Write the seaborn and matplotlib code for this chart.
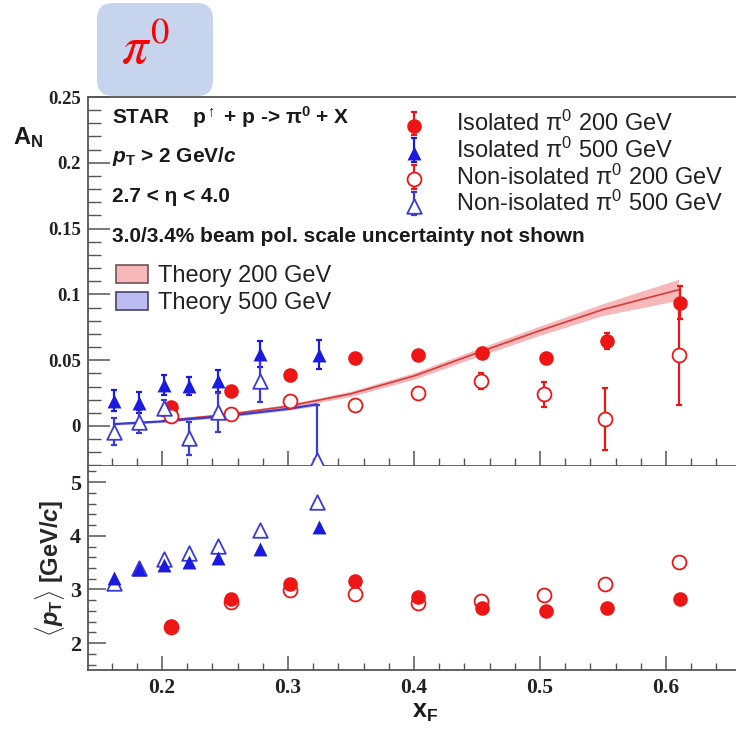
import matplotlib
matplotlib.use("Agg")
import matplotlib.pyplot as plt
import seaborn as sns
from matplotlib.patches import FancyBboxPatch, Patch
from matplotlib.ticker import MultipleLocator, FuncFormatter

# ---------------- data ----------------
# Isolated pi0, sqrt(s) = 200 GeV
xf_iso200 = [0.207, 0.255, 0.302, 0.353, 0.403, 0.454, 0.505, 0.553, 0.611]
an_iso200 = [0.0142, 0.0268, 0.0387, 0.0520, 0.0538, 0.0556, 0.0513, 0.0644, 0.0937]
err_iso200 = [0.002, 0.003, 0.003, 0.003, 0.003, 0.004, 0.004, 0.006, 0.0127]
pt_iso200 = [2.32, 2.83, 3.11, 3.16, 2.86, 2.66, 2.60, 2.65, 2.83]

# Non-isolated pi0, 200 GeV
xf_non200 = [0.207, 0.255, 0.302, 0.353, 0.403, 0.453, 0.503, 0.552, 0.610]
an_non200 = [0.0078, 0.0091, 0.0192, 0.0159, 0.0248, 0.0341, 0.0240, 0.0050, 0.0538]
err_non200 = [0.003, 0.003, 0.003, 0.003, 0.004, 0.006, 0.0095, 0.0235, 0.038]
pt_non200 = [2.30, 2.77, 2.99, 2.91, 2.75, 2.79, 2.89, 3.11, 3.51]

# Isolated pi0, 500 GeV
xf_iso500 = [0.162, 0.182, 0.2016, 0.2217, 0.2447, 0.2778, 0.3244]
an_iso500 = [0.0192, 0.0177, 0.0310, 0.0303, 0.0340, 0.0546, 0.0543]
err_iso500 = [0.008, 0.0078, 0.0078, 0.007, 0.0085, 0.010, 0.011]
pt_iso500 = [3.21, 3.39, 3.45, 3.52, 3.59, 3.76, 4.17]

# Non-isolated pi0, 500 GeV
xf_non500 = [0.162, 0.182, 0.2016, 0.2217, 0.2447, 0.2778, 0.3233]
an_non500 = [-0.0043, 0.0033, 0.0134, -0.0093, 0.0104, 0.0343, -0.0258]
err_non500 = [0.010, 0.009, 0.006, 0.0125, 0.015, 0.016, 0.042]
pt_non500 = [3.12, 3.40, 3.56, 3.68, 3.81, 4.11, 4.63]

# Theory curves with uncertainty bands
xf_th200 = [0.20, 0.25, 0.30, 0.35, 0.40, 0.45, 0.50, 0.55, 0.61]
an_th200 = [0.004, 0.0085, 0.015, 0.0245, 0.038, 0.0555, 0.0725, 0.0885, 0.1035]
unc_th200 = [0.001, 0.0012, 0.0015, 0.002, 0.0025, 0.003, 0.0035, 0.0045, 0.008]

xf_th500 = [0.162, 0.20, 0.25, 0.30, 0.323]
an_th500 = [0.0015, 0.0035, 0.0075, 0.0130, 0.0165]
unc_th500 = [0.0008, 0.0008, 0.001, 0.001, 0.0012]

# ---------------- style ----------------
sns.set_theme(style="ticks")
plt.rcParams["font.family"] = ["Liberation Sans", "DejaVu Sans"]
plt.rcParams["mathtext.fontset"] = "custom"
plt.rcParams["mathtext.rm"] = "Liberation Sans:bold"
plt.rcParams["mathtext.it"] = "Liberation Sans:bold:italic"
plt.rcParams["mathtext.bf"] = "Liberation Sans:bold"

RED = "#ee1515"
BLUE = "#1a1ae0"
BLUE_OPEN = "#3a3ad8"
RED_LINE = "#d83a3a"
RED_BAND = "#f6b8b8"
BLUE_LINE = "#3b3bd0"
BLUE_BAND = "#bcbcf2"
SPINE = "#555555"

W, H = 736, 729
fig = plt.figure(figsize=(W / 100, H / 100), dpi=100)
fig.patch.set_facecolor("white")


def fx(px):
    return px / W


def fy(py):
    return 1 - py / H


ax_top = fig.add_axes([fx(88), fy(466), fx(736) - fx(88), fy(97) - fy(466)])
ax_bot = fig.add_axes([fx(88), fy(670), fx(736) - fx(88), fy(466) - fy(670)])


def draw_series(ax, x, y, err, color, marker, filled, size):
    eb = None
    if err is not None:
        eb = ax.errorbar(x, y, yerr=err, fmt="none", ecolor=color,
                         elinewidth=1.6, capsize=2.5, capthick=1.6, zorder=3)
    sns.scatterplot(x=x, y=y, ax=ax, marker=marker, s=size,
                    color=color if filled else "white", edgecolor=color,
                    linewidth=0 if filled else 1.3, zorder=4, legend=False)
    return eb, ax.collections[-1]


# ---------------- top panel: A_N ----------------
ax = ax_top
lo200 = [a - u for a, u in zip(an_th200, unc_th200)]
hi200 = [a + u for a, u in zip(an_th200, unc_th200)]
lo500 = [a - u for a, u in zip(an_th500, unc_th500)]
hi500 = [a + u for a, u in zip(an_th500, unc_th500)]
ax.fill_between(xf_th200, lo200, hi200, color=RED_BAND, lw=0, zorder=1)
sns.lineplot(x=xf_th200, y=an_th200, ax=ax, color=RED_LINE, lw=1.2, zorder=2)
ax.fill_between(xf_th500, lo500, hi500, color=BLUE_BAND, lw=0, zorder=1)
sns.lineplot(x=xf_th500, y=an_th500, ax=ax, color=BLUE_LINE, lw=1.6, zorder=2)

h1 = draw_series(ax, xf_iso200, an_iso200, err_iso200, RED, "o", True, 110)
h2 = draw_series(ax, xf_iso500, an_iso500, err_iso500, BLUE, "^", True, 100)
h3 = draw_series(ax, xf_non200, an_non200, err_non200, RED, "o", False, 100)
h4 = draw_series(ax, xf_non500, an_non500, err_non500, BLUE_OPEN, "^", False, 110)

ax.set_xlim(0.1413, 0.6556)
ax.set_ylim(-0.0304, 0.25)
ax.yaxis.set_major_locator(MultipleLocator(0.05))
ax.yaxis.set_minor_locator(MultipleLocator(0.01))
ax.xaxis.set_major_locator(MultipleLocator(0.1))
ax.xaxis.set_minor_locator(MultipleLocator(0.02))
ax.yaxis.set_major_formatter(FuncFormatter(lambda v, p: f"{v:g}" if abs(v) > 1e-9 else "0"))
ax.tick_params(axis="y", which="major", direction="in", length=16, width=1.1,
               color=SPINE, pad=5, labelsize=13.5)
ax.tick_params(axis="y", which="minor", direction="in", length=9, width=1.0, color=SPINE)
ax.tick_params(axis="x", which="major", direction="in", length=11, width=1.1,
               color=SPINE, labelbottom=False)
ax.tick_params(axis="x", which="minor", direction="in", length=6, width=1.0, color=SPINE)
ax.set_xlabel("")
ax.set_ylabel("")

leg1 = ax.legend([(h1[0], h1[1]), (h2[0], h2[1]), (h3[0], h3[1]), (h4[0], h4[1])],
                 [r"Isolated $\mathregular{\pi^0}$ 200 GeV",
                  r"Isolated $\mathregular{\pi^0}$ 500 GeV",
                  r"Non-isolated $\mathregular{\pi^0}$ 200 GeV",
                  r"Non-isolated $\mathregular{\pi^0}$ 500 GeV"],
                 loc="upper left", bbox_to_anchor=((397 - 88) / 648, (466 - 111) / 369),
                 frameon=False, fontsize=17, handlelength=1.4, handleheight=0.5,
                 handletextpad=1.1, labelspacing=0.06, borderpad=0, borderaxespad=0)
for t in leg1.get_texts():
    t.set_color("#222222")
ax.add_artist(leg1)

leg2 = ax.legend([Patch(facecolor=RED_BAND, edgecolor="#6e5555", lw=1.2),
                  Patch(facecolor=BLUE_BAND, edgecolor="#444466", lw=1.2)],
                 ["Theory 200 GeV", "Theory 500 GeV"],
                 loc="upper left", bbox_to_anchor=((116 - 88) / 648, (466 - 265) / 369),
                 frameon=False, fontsize=17, handlelength=1.35, handleheight=0.8,
                 handletextpad=0.45, labelspacing=0.2, borderpad=0, borderaxespad=0)
for t in leg2.get_texts():
    t.set_color("#222222")

# ---------------- bottom panel: <pT> ----------------
ax = ax_bot
draw_series(ax, xf_non200, pt_non200, None, RED, "o", False, 100)
draw_series(ax, xf_iso200, pt_iso200, None, RED, "o", True, 110)
draw_series(ax, xf_non500, pt_non500, None, BLUE_OPEN, "^", False, 110)
draw_series(ax, xf_iso500, pt_iso500, None, BLUE, "^", True, 100)

ax.set_xlim(0.1413, 0.6556)
ax.set_ylim(1.5, 5.3)
ax.yaxis.set_major_locator(MultipleLocator(1))
ax.yaxis.set_minor_locator(MultipleLocator(0.2))
ax.xaxis.set_major_locator(MultipleLocator(0.1))
ax.xaxis.set_minor_locator(MultipleLocator(0.02))
ax.xaxis.set_major_formatter(FuncFormatter(lambda v, p: f"{v:.1f}"))
ax.yaxis.set_major_formatter(FuncFormatter(lambda v, p: f"{v:.0f}"))
ax.tick_params(axis="y", which="major", direction="in", length=13, width=1.1,
               color=SPINE, pad=5, labelsize=16)
ax.tick_params(axis="y", which="minor", direction="in", length=6, width=1.0, color=SPINE)
ax.tick_params(axis="x", which="major", direction="in", length=10, width=1.1,
               color=SPINE, pad=6, labelsize=15.5)
ax.tick_params(axis="x", which="minor", direction="in", length=5, width=1.0, color=SPINE)
ax.set_xlabel("")
ax.set_ylabel(r"$\langle p_{\mathrm{T}} \rangle$ [GeV/$c$]", fontsize=17,
              fontweight="bold", labelpad=2)

for a in (ax_top, ax_bot):
    a.set_facecolor("white")
    a.spines["right"].set_visible(False)
    for s in ("left", "top", "bottom"):
        a.spines[s].set_color(SPINE)
        a.spines[s].set_linewidth(1.3)
    for lbl in a.get_xticklabels() + a.get_yticklabels():
        lbl.set_fontfamily("Liberation Serif")
        lbl.set_fontweight("bold")
        lbl.set_color("#222222")
ax_bot.spines["top"].set_visible(False)

# ---------------- annotations ----------------
ann = dict(fontsize=15, fontweight="bold", color="#1a1a1a", ha="left", va="center")
fig.text(fx(112), fy(117), r"STAR    p$^{\uparrow}$ + p -> $\mathregular{\pi^0}$ + X", **ann)
fig.text(fx(112), fy(157), r"$p_{\mathrm{T}}$ > 2 GeV/$c$", **ann)
fig.text(fx(112), fy(196), "2.7 < η < 4.0", **ann)
fig.text(fx(112), fy(236), "3.0/3.4% beam pol. scale uncertainty not shown", **ann)

fig.text(fx(13), fy(138), r"A$_\mathregular{N}$", fontsize=17, fontweight="bold",
         color="#1a1a1a", ha="left", va="center")
fig.text(fx(425), fy(712), r"x$_\mathregular{F}$", fontsize=18, fontweight="bold",
         color="#1a1a1a", ha="center", va="center")

# header tag
fig.add_artist(FancyBboxPatch((fx(97), fy(96)), fx(213) - fx(97), fy(3) - fy(96),
                              boxstyle="round,pad=0,rounding_size=0.022",
                              transform=fig.transFigure, facecolor="#c6d4ee",
                              edgecolor="none", zorder=5))
fig.text(fx(146), fy(50), r"$\pi^0$", color="red", fontsize=38, math_fontfamily="stix",
         ha="center", va="center", zorder=6)

fig.savefig("out.png", dpi=100)
